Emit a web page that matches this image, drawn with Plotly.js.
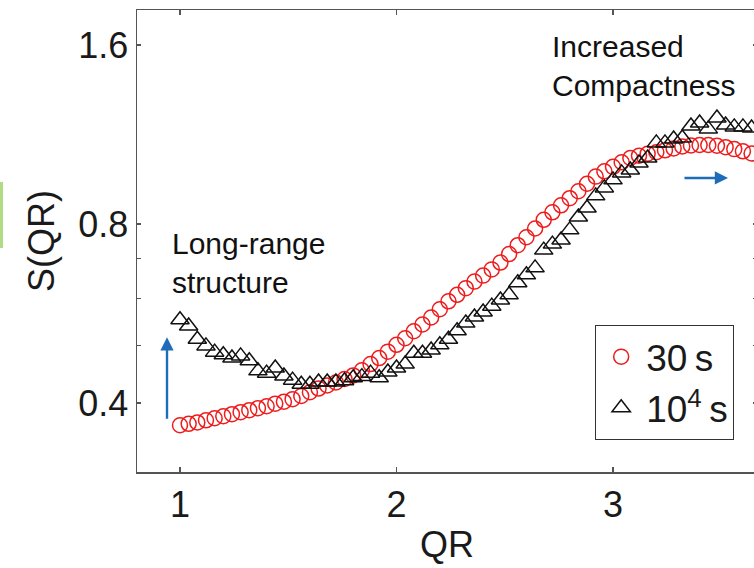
<!DOCTYPE html>
<html>
<head>
<meta charset="utf-8">
<script src="https://cdn.plot.ly/plotly-3.0.1.min.js"></script>
<style>
html,body{margin:0;padding:0;background:#fff;overflow:hidden;width:754px;height:568px;}
#chart{width:760px;height:568px;}
</style>
</head>
<body>
<div id="chart"></div>
<script>
// QR values (x)
var qr30 = [1.00,1.04,1.08,1.12,1.16,1.20,1.24,1.28,1.32,1.36,1.40,1.44,1.48,1.52,1.56,1.60,1.64,1.68,1.72,1.76,
            1.80,1.84,1.88,1.92,1.96,2.00,2.04,2.08,2.12,2.16,2.20,2.24,2.28,2.32,2.36,2.40,2.44,2.48,2.52,2.56,
            2.60,2.64,2.68,2.72,2.76,2.80,2.84,2.88,2.92,2.96,3.00,3.04,3.08,3.12,3.16,3.20,3.24,3.28,3.32,3.36,
            3.40,3.44,3.48,3.52,3.56,3.60,3.64];
// S(QR) at 30 s (red circles)
var s30 = [0.367,0.369,0.371,0.374,0.377,0.380,0.383,0.386,0.389,0.392,0.395,0.399,0.402,0.406,0.411,0.417,0.423,0.428,0.433,0.439,
           0.445,0.454,0.465,0.476,0.488,0.501,0.514,0.528,0.542,0.557,0.575,0.593,0.608,0.624,0.640,0.655,0.671,0.689,0.712,0.737,
           0.760,0.786,0.813,0.837,0.860,0.884,0.908,0.935,0.961,0.981,0.998,1.016,1.033,1.042,1.050,1.056,1.064,1.072,1.080,1.084,
           1.086,1.086,1.083,1.077,1.069,1.060,1.051];
var qr1e4 = [1.00,1.04,1.08,1.12,1.16,1.20,1.24,1.28,1.32,1.36,1.40,1.44,1.48,1.52,1.56,1.60,1.64,1.68,1.72,1.76,
             1.80,1.84,1.88,1.92,1.96,2.00,2.04,2.08,2.12,2.16,2.20,2.24,2.28,2.32,2.36,2.40,2.44,2.48,2.52,2.56,
             2.60,2.64,2.68,2.72,2.76,2.80,2.84,2.88,2.92,2.96,3.00,3.04,3.08,3.12,3.16,3.20,3.24,3.28,3.32,3.36,
             3.40,3.44,3.48,3.52,3.56,3.60,3.64];
// S(QR) at 10^4 s (black triangles)
var s1e4 = [0.552,0.539,0.512,0.499,0.487,0.482,0.476,0.480,0.471,0.453,0.449,0.458,0.444,0.437,0.430,0.430,0.434,0.434,0.434,0.436,
            0.441,0.443,0.449,0.441,0.451,0.458,0.465,0.485,0.485,0.491,0.501,0.512,0.529,0.545,0.558,0.569,0.582,0.596,0.608,0.637,
            0.657,0.675,0.723,0.740,0.752,0.782,0.822,0.851,0.892,0.920,0.949,0.975,0.986,1.013,1.033,1.095,1.095,1.112,1.116,1.169,
            1.183,1.156,1.206,1.174,1.165,1.165,1.160];
var seriesNames = ['30\u2009s', '10<sup>4</sup>\u2009s'];
var yTickVals = [0.4, 0.8, 1.6];
var yTickText = ['0.4', '0.8', '1.6'];
var yMinorVals = [0.5, 0.6, 0.7];
var xTickVals = [1, 2, 3];
var xTickText = ['1', '2', '3'];

var FONT = 'Liberation Sans, Arial, Helvetica, sans-serif';
var L = Math.log10;
var arrowBlue = '#1f6db8';

var traces = [
  {x: qr30, y: s30, name: seriesNames[0], type: 'scatter', mode: 'markers',
   marker: {symbol: 'circle-open', size: 15, color: '#ee1c1c', line: {width: 1.5, color: '#ee1c1c'}}},
  {x: qr1e4, y: s1e4, name: seriesNames[1], type: 'scatter', mode: 'markers',
   marker: {symbol: 'triangle-up-open', size: 16, color: '#111', line: {width: 1.5, color: '#111'}}}
];

var layout = {
  width: 760, height: 568,
  margin: {l: 137, r: 3, t: 10, b: 96},
  paper_bgcolor: '#fff', plot_bgcolor: '#fff',
  font: {family: FONT, color: '#1a1a1a'},
  showlegend: true,
  legend: {x: 0.739, y: 0.318, xanchor: 'left', yanchor: 'top',
           bordercolor: '#333', borderwidth: 1, bgcolor: '#fff', itemwidth: 40,
           font: {size: 37, family: FONT, color: '#1a1a1a'}, tracegroupgap: 0},
  xaxis: {range: [0.8014, 3.665], showgrid: false, zeroline: false,
          showline: true, linecolor: '#555', linewidth: 1.5, mirror: 'ticks',
          ticks: 'inside', ticklen: 5, tickcolor: '#555', tickwidth: 1.2,
          tickmode: 'array', tickvals: xTickVals, ticktext: xTickText,
          tickfont: {size: 36, family: FONT, color: '#1a1a1a'},
          title: {text: 'QR', font: {size: 36, family: FONT, color: '#1a1a1a'}, standoff: 8}},
  yaxis: {type: 'log', range: [L(0.3062), L(1.832)], showgrid: false, zeroline: false,
          showline: true, linecolor: '#555', linewidth: 1.5, mirror: 'ticks',
          ticks: 'inside', ticklen: 4, tickcolor: '#555', tickwidth: 1.2,
          tickmode: 'array', tickvals: yTickVals, ticktext: yTickText,
          minor: {tickmode: 'array', tickvals: yMinorVals, ticks: 'inside', ticklen: 4, tickcolor: '#555', tickwidth: 1.2, showgrid: false},
          tickfont: {size: 36, family: FONT, color: '#1a1a1a'},
          title: {text: 'S(QR)', font: {size: 36, family: FONT, color: '#1a1a1a'}, standoff: 12}},
  annotations: [
    {x: 0.954, y: L(0.688), xref: 'x', yref: 'y', text: 'Long-range<br>structure', showarrow: false,
     xanchor: 'left', yanchor: 'middle', align: 'left', font: {size: 30, family: FONT, color: '#111'}},
    {x: 2.709, y: L(1.475), xref: 'x', yref: 'y', text: 'Increased<br>Compactness', showarrow: false,
     xanchor: 'left', yanchor: 'middle', align: 'left', font: {size: 30, family: FONT, color: '#111'}},
    {x: 0.94, y: L(0.516), ax: 0.94, ay: L(0.374), xref: 'x', yref: 'y', axref: 'x', ayref: 'y',
     text: '', showarrow: true, arrowhead: 2, arrowsize: 1.1, arrowwidth: 2.4, arrowcolor: arrowBlue, standoff: 0},
    {x: 3.531, y: L(0.956), ax: 3.323, ay: L(0.956), xref: 'x', yref: 'y', axref: 'x', ayref: 'y',
     text: '', showarrow: true, arrowhead: 2, arrowsize: 1.1, arrowwidth: 2.4, arrowcolor: arrowBlue, standoff: 0}
  ],
  shapes: [
    {type: 'rect', xref: 'paper', yref: 'paper', x0: -137/620, x1: -134/620, y0: (472-248)/462, y1: (472-182)/462,
     fillcolor: '#b2dc84', line: {width: 0}}
  ]
};

Plotly.newPlot('chart', traces, layout, {displayModeBar: false, staticPlot: true});
</script>
</body>
</html>
